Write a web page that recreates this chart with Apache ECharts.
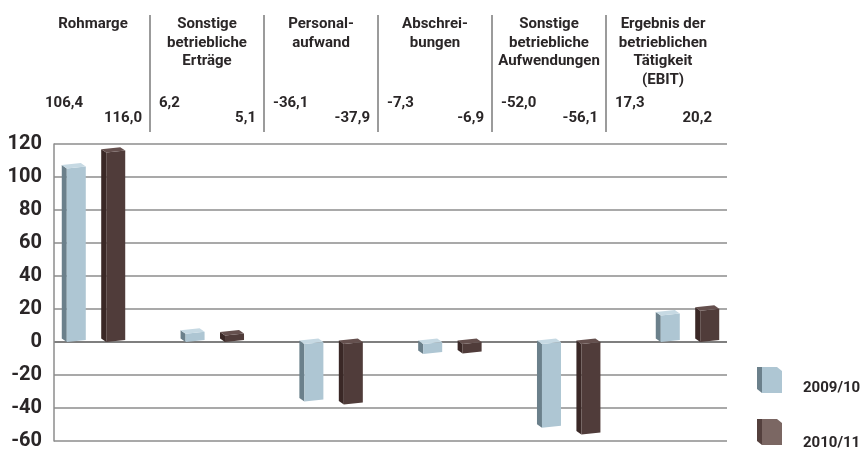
<!DOCTYPE html>
<html>
<head>
<meta charset="utf-8">
<script src="https://cdn.jsdelivr.net/npm/echarts@6/dist/echarts.min.js"></script>
<style>
  html, body { margin: 0; padding: 0; background: #ffffff; }
  #chart { width: 863px; height: 453px; }
</style>
</head>
<body>
<div id="chart"></div>
<script>
// Column headings of the operating-result breakdown (EUR m)
const categories = [
  'Rohmarge',
  'Sonstige\nbetriebliche\nErträge',
  'Personal-\naufwand',
  'Abschrei-\nbungen',
  'Sonstige\nbetriebliche\nAufwendungen',
  'Ergebnis der\nbetrieblichen\nTätigkeit\n(EBIT)'
];
const years = ['2009/10', '2010/11'];
const values0910 = [106.4, 6.2, -36.1, -7.3, -52.0, 17.3];
const values1011 = [116.0, 5.1, -37.9, -6.9, -56.1, 20.2];
const yMin = -60, yMax = 120, yStep = 20;

const FONT = 'Roboto, "DejaVu Sans", sans-serif';
const INK = '#2a2627';

const palettes = [
  { side: '#6b808b', front: '#aec6d3', top: '#c6d9e3', legendSide: '#6b808b', legendFront: '#aec6d3' },
  { side: '#3a2826', front: '#503c3a', top: '#65504e', legendSide: '#54403d', legendFront: '#7b6763' }
];

const fmt = v => v.toFixed(1).replace('.', ',');

// Draws one pseudo-3D box per value: darker left side, lighter top face,
// with a slight upward tilt to the right for perspective
function boxRenderer(shift, pal) {
  return function (params, api) {
    const cat = api.value(0);
    const v = api.value(1);
    const band = api.size([1, 0])[0];
    const base = api.coord([cat, 0]);
    const tip = api.coord([cat, v]);
    const cx = base[0] + shift * band;
    const w = band * 0.16;
    const dx = 5, dy = 4, rise = 2;
    const x1 = cx - w / 2, x2 = cx + w / 2;
    const top = Math.min(base[1], tip[1]) + 2;
    const bottom = Math.max(base[1], tip[1]);
    const P = (x, y) => [x, y - (x - x1) / w * rise];
    return {
      type: 'group',
      children: [
        { type: 'polygon', shape: { points: [P(x1, top), P(x1 - dx, top - dy), P(x1 - dx, bottom - dy), P(x1, bottom)] },
          style: { fill: pal.side } },
        { type: 'polygon', shape: { points: [P(x1, top), P(x2, top), P(x2, bottom), P(x1, bottom)] },
          style: { fill: pal.front } },
        { type: 'polygon', shape: { points: [P(x1, top), P(x2, top), P(x2 - dx, top - dy), P(x1 - dx, top - dy)] },
          style: { fill: pal.top } }
      ]
    };
  };
}

// Heading row: column name, both year values, separator on the left
function headerRenderer(params, api) {
  const i = api.value(0);
  const band = api.size([1, 0])[0];
  const cx = api.coord([i, 0])[0];
  const left = cx - band / 2, right = cx + band / 2;
  const y0 = params.coordSys.y;
  const children = [
    { type: 'text', style: { text: categories[i], x: cx, y: y0 + 15, align: 'center', verticalAlign: 'top',
        lineHeight: 18.5, font: 'bold 15px ' + FONT, fill: INK } },
    { type: 'text', style: { text: fmt(values0910[i]), x: left + 9, y: y0 + 103, align: 'left', verticalAlign: 'middle',
        font: 'bold 15px ' + FONT, fill: INK } },
    { type: 'text', style: { text: fmt(values1011[i]), x: right - 8, y: y0 + 118, align: 'right', verticalAlign: 'middle',
        font: 'bold 15px ' + FONT, fill: INK } }
  ];
  if (i > 0) {
    children.push({ type: 'line', shape: { x1: left, y1: y0 + 15, x2: left, y2: y0 + 132 },
      style: { stroke: '#7a7a7a', lineWidth: 1.5 } });
  }
  return { type: 'group', children };
}

function legendGradient(pal) {
  return new echarts.graphic.LinearGradient(0, 0, 1, 0, [
    { offset: 0, color: pal.legendSide }, { offset: 0.2, color: pal.legendSide },
    { offset: 0.2, color: pal.legendFront }, { offset: 1, color: pal.legendFront }
  ]);
}

// One legend block per year, each with a cube-shaped icon; the year label
// sits a little below the icon's middle
const cubeIcon = 'path://M0,0 L20,0 L25,4 L25,26 L5,26 L0,22 Z';
const legendTops = [364, 410];
const legendLineHeights = [16, 22];
const legends = years.map((y, k) => ({
  orient: 'vertical', left: 757, top: legendTops[k], padding: 0,
  itemWidth: 25, itemHeight: 26,
  selectedMode: false,
  data: [{ name: y, icon: cubeIcon }],
  formatter: name => '\n' + name,
  textStyle: { fontSize: 15, fontWeight: 'bold', fontFamily: FONT, color: INK,
    lineHeight: legendLineHeights[k], padding: [0, 0, 0, 16] }
}));

const gridLineColors = [];
for (let t = yMin; t <= yMax; t += yStep) gridLineColors.push(t === 0 ? '#555555' : '#8c8c8c');

const chart = echarts.init(document.getElementById('chart'), null, { renderer: 'canvas' });
chart.setOption({
  animation: false,
  backgroundColor: '#ffffff',
  grid: [
    { left: 54, right: 136, top: 144, height: 297 },
    { left: 36.6, right: 113.6, top: 144, height: 297 },
    { left: 36, right: 143, top: 0, height: 140 }
  ],
  xAxis: [
    { gridIndex: 0, type: 'category', data: categories, show: false },
    { gridIndex: 1, type: 'category', data: categories, show: false },
    { gridIndex: 2, type: 'category', data: categories, show: false }
  ],
  yAxis: [
    { gridIndex: 0, type: 'value', min: yMin, max: yMax, interval: yStep,
      axisLine: { show: true, lineStyle: { color: '#8c8c8c', width: 1.5 } },
      axisTick: { show: false },
      splitLine: { show: true, lineStyle: { color: gridLineColors, width: 1.5 } },
      axisLabel: { margin: 12, fontSize: 20, fontWeight: 'bold', fontFamily: FONT, color: INK, padding: [8, 0, 0, 0] } },
    { gridIndex: 1, type: 'value', min: yMin, max: yMax, interval: yStep, show: false, splitLine: { show: false } },
    { gridIndex: 2, type: 'value', min: 0, max: 1, show: false, splitLine: { show: false } }
  ],
  legend: legends,
  series: [
    { name: years[0], type: 'custom', xAxisIndex: 1, yAxisIndex: 1, silent: true,
      itemStyle: { color: legendGradient(palettes[0]) },
      encode: { x: 0, y: 1 },
      data: values0910.map((v, i) => [i, v]),
      renderItem: boxRenderer(-0.166, palettes[0]) },
    { name: years[1], type: 'custom', xAxisIndex: 1, yAxisIndex: 1, silent: true,
      itemStyle: { color: legendGradient(palettes[1]) },
      encode: { x: 0, y: 1 },
      data: values1011.map((v, i) => [i, v]),
      renderItem: boxRenderer(0.166, palettes[1]) },
    { name: 'Kopfzeile', type: 'custom', xAxisIndex: 2, yAxisIndex: 2, silent: true,
      encode: { x: 0 },
      data: categories.map((c, i) => [i]),
      renderItem: headerRenderer }
  ]
});
</script>
</body>
</html>
